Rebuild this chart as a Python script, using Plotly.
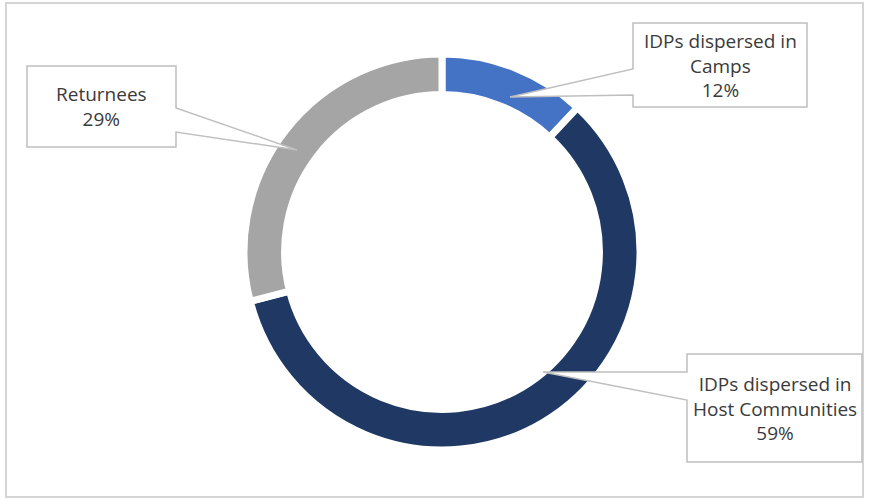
import plotly.graph_objects as go

categories = ["IDPs dispersed in Camps", "IDPs dispersed in Host Communities", "Returnees"]
values = [12, 59, 29]
label_lines = [["IDPs dispersed in", "Camps"], ["IDPs dispersed in", "Host Communities"], ["Returnees"]]
colors = ["#4472C4", "#203864", "#A5A5A5"]

W, H = 872, 500
CX, CY, R = 442, 252, 198

def px(x):
    return x / W

def py(y):
    return 1 - y / H

fig = go.Figure()
fig.add_trace(go.Pie(
    labels=categories, values=values, sort=False, direction="clockwise", rotation=0,
    hole=0.795, textinfo="none", hoverinfo="label+percent",
    marker=dict(colors=colors, line=dict(color="white", width=7)),
    domain=dict(x=[px(CX - R), px(CX + R)], y=[py(CY + R), py(CY - R)]),
    showlegend=False,
))

# callout boxes (pixel layout): box x0,y0,x1,y1, pointer tip, pointer base points on box edge
callouts = [
    dict(box=(633, 23, 807, 107), tip=(510, 97), base=[(633, 69), (633, 95)]),
    dict(box=(687, 354, 862, 462), tip=(543, 372), base=[(687, 372), (687, 400)]),
    dict(box=(27, 66, 176, 147), tip=(297, 150), base=[(176, 108), (176, 132)]),
]

shapes = [dict(type="rect", xref="paper", yref="paper", x0=px(6), y0=py(497), x1=px(863), y1=py(3),
               line=dict(color="#D4D4D4", width=2), fillcolor="rgba(0,0,0,0)", layer="below")]
annotations = []
for cat, val, lines, c in zip(categories, values, label_lines, callouts):
    x0, y0, x1, y1 = c["box"]
    tx, ty = c["tip"]
    (bx1, by1), (bx2, by2) = c["base"]
    if bx1 == x0:
        path = (f"M {px(x0)},{py(y0)} L {px(x1)},{py(y0)} L {px(x1)},{py(y1)} L {px(x0)},{py(y1)} "
                f"L {px(x0)},{py(by2)} L {px(tx)},{py(ty)} L {px(x0)},{py(by1)} Z")
    else:
        path = (f"M {px(x0)},{py(y0)} L {px(x1)},{py(y0)} L {px(x1)},{py(by1)} L {px(tx)},{py(ty)} "
                f"L {px(x1)},{py(by2)} L {px(x1)},{py(y1)} L {px(x0)},{py(y1)} Z")
    shapes.append(dict(type="path", xref="paper", yref="paper", path=path,
                       line=dict(color="#BFBFBF", width=1.5), fillcolor="white", layer="above"))
    text = "<br>".join(lines + [f"{val}%"])
    annotations.append(dict(xref="paper", yref="paper", x=px((x0 + x1) / 2), y=py((y0 + y1) / 2),
                            text=text, showarrow=False, xanchor="center", yanchor="middle",
                            font=dict(family="Open Sans, sans-serif", size=19, color="#3A3A3A"),
                            align="center"))

fig.update_layout(
    width=W, height=H, margin=dict(l=0, r=0, t=0, b=0),
    paper_bgcolor="white", plot_bgcolor="white",
    shapes=shapes, annotations=annotations,
)
fig.write_html("out.html", config={"displayModeBar": False},
               post_script="document.body.style.margin='0';")
